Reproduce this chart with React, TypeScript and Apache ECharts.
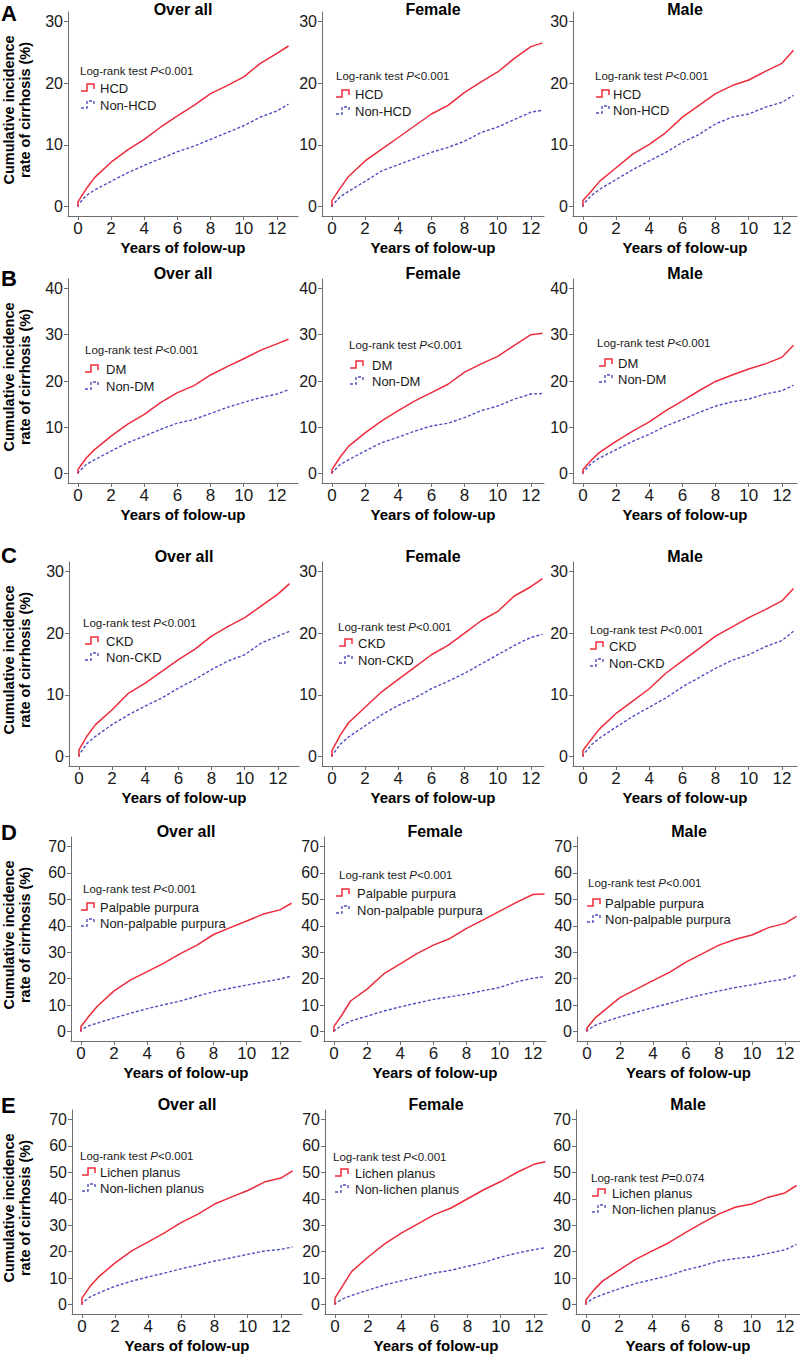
import React, { useEffect, useRef } from "react";
import * as echarts from "echarts";

// ---------------- DATA ----------------
const panelLetters = ["A", "B", "C", "D", "E"];
const columnTitles = ["Over all", "Female", "Male"];
const exposureNames = ["HCD", "DM", "CKD", "Palpable purpura", "Lichen planus"];
const referenceNames = ["Non-HCD", "Non-DM", "Non-CKD", "Non-palpable purpura", "Non-lichen planus"];
const pValues = [
  ["<0.001", "<0.001", "<0.001"],
  ["<0.001", "<0.001", "<0.001"],
  ["<0.001", "<0.001", "<0.001"],
  ["<0.001", "<0.001", "<0.001"],
  ["<0.001", "<0.001", "=0.074"],
];
const yTopTicks = [30, 40, 30, 70, 70];
const xTickValues = [0, 2, 4, 6, 8, 10, 12];

// follow-up years at which cumulative incidence (%) was read
const years = [0, 0, 0.5, 1, 2, 3, 4, 5, 6, 7, 8, 9, 10, 11, 12, 12.7];

// A: HCD
const hcdOverall = [0, 0.8, 2.9, 4.7, 7.2, 9.2, 10.9, 12.9, 14.7, 16.4, 18.3, 19.6, 21.0, 23.2, 24.8, 26.0];
const nonHcdOverall = [0, 0.3, 1.8, 2.7, 4.1, 5.5, 6.7, 7.8, 8.9, 9.8, 10.9, 12.0, 13.1, 14.5, 15.5, 16.6];
const hcdFemale = [0, 1.0, 3.0, 4.9, 7.4, 9.3, 11.2, 13.1, 15.0, 16.4, 18.5, 20.2, 21.8, 24.0, 25.9, 26.5];
const nonHcdFemale = [0, 0.2, 1.6, 2.5, 4.1, 5.8, 6.8, 7.8, 8.8, 9.6, 10.6, 12.0, 12.9, 14.1, 15.3, 15.6];
const hcdMale = [0, 1.0, 2.5, 4.1, 6.3, 8.5, 10.1, 12.0, 14.5, 16.4, 18.3, 19.6, 20.5, 21.9, 23.2, 25.3];
const nonHcdMale = [0, 0.3, 1.8, 2.8, 4.4, 6.0, 7.4, 8.8, 10.4, 11.7, 13.4, 14.5, 15.0, 16.1, 16.9, 18.0];

// B: DM
const dmOverall = [0, 0.9, 3.4, 5.2, 8.1, 10.7, 12.8, 15.4, 17.5, 19.0, 21.3, 23.1, 24.8, 26.6, 28.0, 29.0];
const nonDmOverall = [0, 0.2, 2.0, 3.0, 4.9, 6.7, 8.1, 9.6, 10.9, 11.7, 13.0, 14.3, 15.4, 16.4, 17.2, 18.1];
const dmFemale = [0, 0.9, 3.6, 5.9, 8.8, 11.4, 13.6, 15.7, 17.5, 19.3, 21.9, 23.7, 25.3, 27.7, 30.0, 30.3];
const nonDmFemale = [0, 0.2, 2.0, 3.0, 4.9, 6.7, 7.9, 9.2, 10.3, 10.9, 12.1, 13.6, 14.6, 16.1, 17.2, 17.3];
const dmMale = [0, 0.9, 2.9, 4.6, 7.0, 9.2, 11.2, 13.6, 15.7, 17.9, 19.9, 21.3, 22.6, 23.7, 25.1, 27.7];
const nonDmMale = [0, 0.3, 2.2, 3.4, 5.2, 7.0, 8.5, 10.3, 11.7, 13.2, 14.6, 15.5, 16.1, 17.2, 17.9, 19.1];

// C: CKD
const ckdOverall = [0, 1.1, 3.4, 5.2, 7.6, 10.3, 11.9, 13.8, 15.7, 17.4, 19.5, 21.1, 22.5, 24.4, 26.3, 28.0];
const nonCkdOverall = [0, 0.3, 2.2, 3.3, 5.2, 6.8, 8.2, 9.5, 11.1, 12.5, 14.1, 15.5, 16.5, 18.4, 19.5, 20.3];
const ckdFemale = [0, 1.0, 3.5, 5.5, 8.0, 10.5, 12.5, 14.5, 16.5, 18.0, 20.0, 22.0, 23.5, 26.0, 27.5, 28.8];
const nonCkdFemale = [0, 0.2, 2.0, 3.2, 5.0, 6.8, 8.3, 9.5, 11.0, 12.2, 13.5, 15.0, 16.5, 18.0, 19.3, 19.8];
const ckdMale = [0, 1.0, 2.8, 4.5, 7.0, 9.0, 11.0, 13.5, 15.5, 17.5, 19.5, 21.0, 22.5, 23.8, 25.2, 27.2];
const nonCkdMale = [0, 0.3, 1.9, 3.0, 4.8, 6.5, 8.0, 9.5, 11.3, 12.8, 14.3, 15.6, 16.5, 17.8, 18.8, 20.3];

// D: Palpable purpura
const ppOverall = [0, 2.0, 6.0, 9.7, 15.4, 19.6, 22.7, 25.9, 29.5, 32.7, 36.7, 39.3, 41.8, 44.4, 46.0, 48.5];
const nonPpOverall = [0, 0.8, 2.3, 3.3, 5.2, 7.0, 8.7, 10.2, 11.6, 13.4, 15.1, 16.4, 17.6, 18.8, 19.9, 21.0];
const ppFemale = [0, 2.0, 6.5, 11.6, 16.1, 21.8, 25.6, 29.5, 32.7, 35.2, 39.0, 42.2, 45.5, 48.8, 51.8, 52.0];
const nonPpFemale = [0, 0.3, 2.5, 4.0, 5.9, 7.8, 9.4, 10.8, 12.2, 13.2, 14.2, 15.5, 16.7, 18.8, 20.2, 20.8];
const ppMale = [0, 1.4, 5.2, 7.8, 12.9, 16.1, 19.3, 22.4, 26.3, 29.5, 32.7, 34.9, 36.5, 39.3, 40.9, 43.5];
const nonPpMale = [0, 0.5, 2.4, 3.6, 5.6, 7.4, 9.1, 10.7, 12.5, 14.0, 15.4, 16.7, 17.7, 18.9, 19.9, 21.4];

// E: Lichen planus
const lpOverall = [0, 2.5, 7.0, 10.5, 15.8, 20.3, 23.7, 27.2, 31.1, 34.2, 38.0, 40.6, 43.1, 46.3, 47.8, 50.5];
const nonLpOverall = [0, 0.6, 3.0, 4.4, 7.0, 8.9, 10.5, 12.0, 13.6, 15.0, 16.5, 17.7, 19.0, 20.3, 20.9, 21.8];
const lpFemale = [0, 2.5, 7.5, 12.5, 18.0, 23.0, 27.0, 30.5, 34.0, 36.5, 40.0, 43.5, 46.5, 50.0, 53.0, 54.0];
const nonLpFemale = [0, 0.5, 2.3, 3.5, 5.5, 7.5, 9.0, 10.5, 12.0, 13.0, 14.5, 16.0, 18.0, 19.5, 20.8, 21.5];
const lpMale = [0, 1.9, 5.7, 8.9, 13.1, 17.1, 20.3, 23.4, 27.2, 30.8, 34.2, 36.8, 38.0, 40.6, 42.2, 45.0];
const nonLpMale = [0, 0.6, 2.6, 3.8, 6.0, 8.0, 9.5, 11.0, 13.1, 14.6, 16.5, 17.4, 18.1, 19.4, 20.7, 22.8];

const exposedSeries = [
  [hcdOverall, hcdFemale, hcdMale],
  [dmOverall, dmFemale, dmMale],
  [ckdOverall, ckdFemale, ckdMale],
  [ppOverall, ppFemale, ppMale],
  [lpOverall, lpFemale, lpMale],
];
const unexposedSeries = [
  [nonHcdOverall, nonHcdFemale, nonHcdMale],
  [nonDmOverall, nonDmFemale, nonDmMale],
  [nonCkdOverall, nonCkdFemale, nonCkdMale],
  [nonPpOverall, nonPpFemale, nonPpMale],
  [nonLpOverall, nonLpFemale, nonLpMale],
];

// ---------------- LAYOUT / STYLE ----------------
const FONT = "'Liberation Sans', Arial, Helvetica, sans-serif";
const RED = "#EE2B3B";
const BLUE = "#4F4FBE";
const AXIS_COLOR = "#6e6e6e";
const TEXT = "#1a1a1a";
const gridTops = [12, 279, 562, 837, 1110];
const titleYs = [9, 273, 556, 831, 1104];
const axisLefts = [
  [68, 322, 573],
  [68, 322, 573],
  [69, 322, 573],
  [71, 324, 577],
  [72, 325, 576],
];
const colWidths = [230, 222, 224];
const PLOT_H = 204;
const X_MIN = -0.6;
const PX_PER_YEAR = 16.58;
// [logRankX, logRankY, keyX, itemTextX, item1Y, item2Y]
const legendLayout = [
  [[80, 71, 81, 100, 88, 105], [336, 76, 336, 355, 94, 111], [595, 76, 596, 613, 94, 110]],
  [[85, 350, 85, 106, 369, 386], [349, 345, 350, 372, 365, 381], [597, 343, 599, 618, 363, 379]],
  [[83, 623, 85, 106, 641, 657], [338, 627, 339, 358, 643, 660], [590, 630, 590, 609, 646, 663]],
  [[83, 889, 81, 100, 907, 923], [339, 875, 336, 357, 893, 910], [588, 883, 587, 605, 903, 919]],
  [[80, 1156, 82, 100, 1172, 1188], [333, 1157, 335, 355, 1173, 1189], [591, 1178, 592, 612, 1193, 1209]],
];
const letterY = [13, 278, 555, 832, 1105];

function buildOption() {
  const grid: any[] = [];
  const xAxis: any[] = [];
  const yAxis: any[] = [];
  const series: any[] = [];
  const graphic: any[] = [];

  for (let r = 0; r < 5; r++) {
    const top = yTopTicks[r];
    const yTicks: number[] = [];
    for (let v = 0; v <= top; v += 10) yTicks.push(v);

    graphic.push({
      type: "text",
      x: 1,
      y: letterY[r],
      style: {
        text: panelLetters[r],
        fontFamily: FONT,
        fontSize: 22,
        fontWeight: "bold",
        fill: "#000",
        align: "left",
        verticalAlign: "middle",
      },
    });
    graphic.push({
      type: "text",
      x: 17,
      y: gridTops[r] + 98,
      rotation: Math.PI / 2,
      style: {
        text: "Cumulative incidence\nrate of cirrhosis (%)",
        fontFamily: FONT,
        fontSize: 14.5,
        fontWeight: "bold",
        lineHeight: 16,
        fill: "#000",
        align: "center",
        verticalAlign: "middle",
      },
    });

    for (let c = 0; c < 3; c++) {
      const idx = r * 3 + c;
      const left = axisLefts[r][c];
      const w = colWidths[c];
      grid.push({ left, top: gridTops[r], width: w, height: PLOT_H, containLabel: false });
      xAxis.push({
        type: "value",
        gridIndex: idx,
        min: X_MIN,
        max: X_MIN + w / PX_PER_YEAR,
        name: "Years of folow-up",
        nameLocation: "middle",
        nameGap: 24,
        nameTextStyle: { fontFamily: FONT, fontSize: 15, fontWeight: "bold", color: "#000" },
        axisLine: { show: true, onZero: false, lineStyle: { color: AXIS_COLOR, width: 1 } },
        axisTick: { show: true, length: 4, customValues: xTickValues, lineStyle: { color: AXIS_COLOR } },
        axisLabel: { customValues: xTickValues, fontFamily: FONT, fontSize: 17, color: TEXT, margin: 4 },
        splitLine: { show: false },
      });
      yAxis.push({
        type: "value",
        gridIndex: idx,
        min: -0.05 * top,
        max: 1.05 * top,
        axisLine: { show: true, onZero: false, lineStyle: { color: AXIS_COLOR, width: 1 } },
        axisTick: { show: true, length: 4, customValues: yTicks, lineStyle: { color: AXIS_COLOR } },
        axisLabel: { customValues: yTicks, fontFamily: FONT, fontSize: 16, color: TEXT, margin: 5 },
        splitLine: { show: false },
      });
      series.push({
        type: "line",
        name: referenceNames[r],
        xAxisIndex: idx,
        yAxisIndex: idx,
        data: years.map((t, k) => [t, unexposedSeries[r][c][k]]),
        showSymbol: false,
        symbol: "none",
        lineStyle: { color: BLUE, width: 1.4, type: [3, 2] },
        z: 2,
      });
      series.push({
        type: "line",
        name: exposureNames[r],
        xAxisIndex: idx,
        yAxisIndex: idx,
        data: years.map((t, k) => [t, exposedSeries[r][c][k]]),
        showSymbol: false,
        symbol: "none",
        lineStyle: { color: RED, width: 1.5 },
        z: 3,
      });

      // column title
      graphic.push({
        type: "text",
        x: left + w / 2,
        y: titleYs[r],
        style: {
          text: columnTitles[c],
          fontFamily: FONT,
          fontSize: 16,
          fontWeight: "bold",
          fill: "#000",
          align: "center",
          verticalAlign: "middle",
        },
      });

      // legend
      const [lx, ly, kx, tx, y1, y2] = legendLayout[r][c];
      graphic.push({
        type: "text",
        x: lx,
        y: ly,
        style: {
          text: "Log-rank test {i|P}" + pValues[r][c],
          fontFamily: FONT,
          fontSize: 11.5,
          fill: TEXT,
          align: "left",
          verticalAlign: "middle",
          rich: { i: { fontFamily: FONT, fontSize: 11.5, fontStyle: "italic", fill: TEXT } },
        },
      });
      const keyPts = (y: number) => [
        [kx, y + 3],
        [kx + 6, y + 3],
        [kx + 6, y - 4],
        [kx + 13, y - 4],
        [kx + 13, y + 1],
      ];
      graphic.push({
        type: "polyline",
        shape: { points: keyPts(y1) },
        style: { stroke: RED, lineWidth: 1.5, fill: null },
      });
      graphic.push({
        type: "polyline",
        shape: { points: keyPts(y2) },
        style: { stroke: BLUE, lineWidth: 1.4, fill: null, lineDash: [3, 2] },
      });
      graphic.push({
        type: "text",
        x: tx,
        y: y1,
        style: { text: exposureNames[r], fontFamily: FONT, fontSize: 13, fill: TEXT, align: "left", verticalAlign: "middle" },
      });
      graphic.push({
        type: "text",
        x: tx,
        y: y2,
        style: { text: referenceNames[r], fontFamily: FONT, fontSize: 13, fill: TEXT, align: "left", verticalAlign: "middle" },
      });
    }
  }

  return {
    animation: false,
    backgroundColor: "#ffffff",
    grid,
    xAxis,
    yAxis,
    series,
    graphic,
  };
}

export default function App() {
  const ref = useRef<HTMLDivElement | null>(null);
  useEffect(() => {
    if (!ref.current) return;
    const chart = echarts.init(ref.current, undefined, { renderer: "svg" });
    chart.setOption(buildOption() as any);
    return () => chart.dispose();
  }, []);
  return (
    <div
      ref={ref}
      style={{ position: "absolute", left: 0, top: 0, width: 800, height: 1354, background: "#fff" }}
    />
  );
}
